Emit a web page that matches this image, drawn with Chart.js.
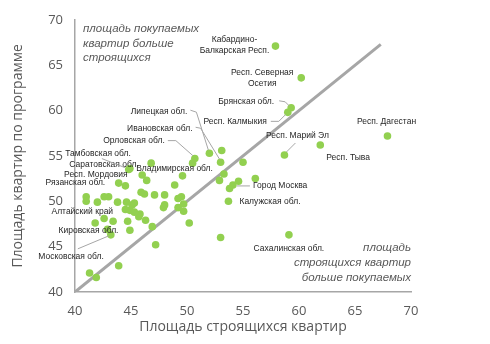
<!DOCTYPE html>
<html>
<head>
<meta charset="utf-8">
<script src="https://cdn.jsdelivr.net/npm/chart.js@4"></script>
<style>
  html, body { margin: 0; background: #fff; }
  #wrap { width: 490px; height: 344px; }
</style>
</head>
<body>
<div id="wrap"><canvas id="chart"></canvas></div>
<script>
// площадь строящихся квартир (x) / площадь по программе (y)
const xBuilding = [57.9, 60.2, 59.3, 59.0, 67.9, 61.9, 58.7, 52.0, 53.0, 50.7,
  54.1, 53.7, 59.1, 44.8, 44.9, 43.9, 41.0, 42.6, 42.9, 43.2,
  46.8, 53.1, 50.5, 49.6, 55.0, 53.3, 52.9, 54.6, 56.1, 53.8,
  49.5, 49.7, 50.2, 53.0, 47.2, 46.9, 46.3, 45.7, 44.9, 44.7,
  43.4, 41.8, 43.9, 41.3, 41.9, 45.8, 44.9, 44.5, 45.1, 48.0,
  47.9, 49.2, 49.7, 49.2, 46.0, 46.4, 44.5, 48.9, 48.0, 47.1,
  46.2, 45.9, 45.3, 44.6, 43.8, 43.0, 42.6, 42.0, 41.0, 45.3];
const yProgram = [67.1, 63.6, 60.3, 59.8, 57.2, 56.2, 55.1, 55.3, 54.3, 54.7,
  51.8, 50.0, 46.3, 53.5, 53.6, 52.0, 50.5, 48.1, 46.9, 46.3,
  54.2, 55.6, 54.2, 52.8, 54.3, 53.0, 52.3, 52.2, 52.5, 51.4,
  50.5, 48.9, 47.6, 46.0, 45.2, 47.2, 47.9, 48.3, 46.8, 47.8,
  47.8, 47.6, 42.9, 42.1, 41.6, 48.6, 49.0, 49.1, 49.6, 49.6,
  49.3, 49.3, 49.7, 50.3, 52.9, 52.3, 51.7, 51.8, 50.7, 50.7,
  50.8, 51.0, 49.8, 49.9, 49.9, 50.5, 50.5, 49.9, 50.0, 48.8];
const regionNames = ['Кабардино-\nБалкарская Респ.', 'Респ. Северная\nОсетия', 'Брянская обл.',
  'Респ. Калмыкия', 'Респ. Дагестан', 'Респ. Тыва', 'Респ. Марий Эл', 'Липецкая обл.',
  'Ивановская обл.', 'Орловская обл.', 'Город Москва', 'Калужская обл.', 'Сахалинская обл.',
  'Саратовская обл.', 'Тамбовская обл.', 'Респ. Мордовия', 'Рязанская обл.', 'Алтайский край',
  'Кировская обл.', 'Московская обл.', 'Владимирская обл.'];
const axisTicks = [40, 45, 50, 55, 60, 65, 70];
const diagonalEnd = 67.3;

const xTitle = 'Площадь строящихся квартир';
const yTitle = 'Площадь квартир по программе';
const noteTopLeft = ['площадь покупаемых', 'квартир больше', 'строящихся'];
const noteBottomRight = ['площадь', 'строящихся квартир', 'больше покупаемых'];

// где рисовать подписи: смещение от точки в пикселях, выравнивание, выноска
const labelPlace = {
  'Кабардино-\nБалкарская Респ.': { dx: -41, dy: -6, align: 'center' },
  'Респ. Северная\nОсетия': { dx: -39, dy: -5, align: 'center' },
  'Брянская обл.': { dx: -17, dy: -6, align: 'right', lead: [[-12, -7], [-6, -6], [-2, -2]] },
  'Респ. Калмыкия': { dx: -21, dy: 9, align: 'right', lead: [[-17, 9], [-9, 9], [-2, 2]] },
  'Респ. Дагестан': { dx: -1, dy: -14, align: 'center' },
  'Респ. Тыва': { dx: 6, dy: 13, align: 'left' },
  'Респ. Марий Эл': { dx: 13, dy: -19, align: 'center', lead: [[11, -12], [2, -3]] },
  'Липецкая обл.': { dx: -22, dy: -42, align: 'right', lead: [[-19, -43], [-13, -41], [-1, -3]] },
  'Ивановская обл.': { dx: -28, dy: -34, align: 'right', lead: [[-25, -35], [-20, -34], [-1, -3]] },
  'Орловская обл.': { dx: -30, dy: -18, align: 'right', lead: [[-27, -18], [-19, -18], [-2, -3]] },
  'Город Москва': { dx: 20, dy: 1, align: 'left', lead: [[17, 1], [4, 1]] },
  'Калужская обл.': { dx: 11, dy: 0, align: 'left' },
  'Сахалинская обл.': { dx: 0, dy: 14, align: 'center' },
  'Саратовская обл.': { dx: 10, dy: -5, align: 'right' },
  'Тамбовская обл.': { dx: 1, dy: -15, align: 'right', lead: [[-28, -10], [-5, -1]] },
  'Респ. Мордовия': { dx: 9, dy: -8, align: 'right' },
  'Рязанская обл.': { dx: 19, dy: -14, align: 'right' },
  'Алтайский край': { dx: 9, dy: -7, align: 'right' },
  'Кировская обл.': { dx: 11, dy: 1, align: 'right' },
  'Московская обл.': { dx: -7, dy: 22, align: 'right', lead: [[-33, 14], [-2, 1]] },
  'Владимирская обл.': { dx: -15, dy: 5, align: 'left' }
};

const textColor = '#595959';
const axisColor = '#a6a6a6';
const mainFont = "'Open Sans', 'Liberation Sans', sans-serif";

const points = xBuilding.map((x, i) => ({ x: x, y: yProgram[i] }));

// подписи регионов и пояснения в углах
const notesPlugin = {
  id: 'notes',
  afterDatasetsDraw(chart) {
    const ctx = chart.ctx;
    const xs = chart.scales.x, ys = chart.scales.y;
    const area = chart.chartArea;
    ctx.save();

    regionNames.forEach((name, i) => {
      const p = labelPlace[name];
      if (!p) return;
      const px = xs.getPixelForValue(xBuilding[i]);
      const py = ys.getPixelForValue(yProgram[i]);
      if (p.lead) {
        ctx.strokeStyle = axisColor;
        ctx.lineWidth = 1;
        ctx.beginPath();
        p.lead.forEach((d, k) => {
          if (k === 0) ctx.moveTo(px + d[0], py + d[1]);
          else ctx.lineTo(px + d[0], py + d[1]);
        });
        ctx.stroke();
      }
      ctx.fillStyle = '#262626';
      ctx.font = "8.5px 'Liberation Sans', Arial, sans-serif";
      ctx.textAlign = p.align;
      ctx.textBaseline = 'middle';
      name.split('\n').forEach((line, k) => {
        ctx.fillText(line, px + p.dx, py + p.dy + k * 11);
      });
    });

    ctx.fillStyle = textColor;
    ctx.font = "italic 11.5px 'Liberation Sans', Arial, sans-serif";
    ctx.textBaseline = 'middle';
    ctx.textAlign = 'left';
    noteTopLeft.forEach((line, k) => {
      ctx.fillText(line, area.left + 8, area.top + 9 + k * 14.5);
    });
    ctx.textAlign = 'right';
    noteBottomRight.forEach((line, k) => {
      ctx.fillText(line, area.right, area.bottom - 44 + k * 15);
    });
    ctx.restore();
  }
};

new Chart(document.getElementById('chart'), {
  type: 'scatter',
  data: {
    datasets: [{
      data: points,
      backgroundColor: '#92d050',
      borderWidth: 0,
      pointRadius: 3.8,
      pointHoverRadius: 3.8,
      order: 1
    }, {
      type: 'line',
      data: [{ x: axisTicks[0], y: axisTicks[0] }, { x: diagonalEnd, y: diagonalEnd }],
      borderColor: axisColor,
      borderWidth: 3,
      pointRadius: 0,
      fill: false,
      order: 2
    }]
  },
  options: {
    responsive: true,
    maintainAspectRatio: false,
    animation: false,
    layout: { padding: { top: 14, right: 79, left: 0, bottom: 0 } },
    plugins: { legend: { display: false }, tooltip: { enabled: false } },
    scales: {
      x: {
        type: 'linear',
        min: axisTicks[0],
        max: axisTicks[axisTicks.length - 1],
        afterBuildTicks: s => { s.ticks = axisTicks.map(v => ({ value: v })); },
        afterFit: s => { s.height = 52; },
        grid: { display: false, drawTicks: false },
        border: { color: axisColor, width: 1.5 },
        ticks: { color: textColor, padding: 11, font: { family: mainFont, size: 13 } },
        title: { display: true, text: xTitle, color: textColor, padding: { top: 0, bottom: 9 },
          font: { family: mainFont, size: 14 } }
      },
      y: {
        type: 'linear',
        min: axisTicks[0],
        max: axisTicks[axisTicks.length - 1],
        afterBuildTicks: s => { s.ticks = axisTicks.map(v => ({ value: v })); },
        afterFit: s => { s.width = 75; },
        grid: { display: false, drawTicks: false },
        border: { color: axisColor, width: 1.5 },
        ticks: { color: textColor, padding: 12, font: { family: mainFont, size: 13 } },
        title: { display: true, text: yTitle, color: textColor, padding: { top: 10, bottom: 0 },
          font: { family: mainFont, size: 14 } }
      }
    }
  },
  plugins: [notesPlugin]
});
</script>
</body>
</html>
